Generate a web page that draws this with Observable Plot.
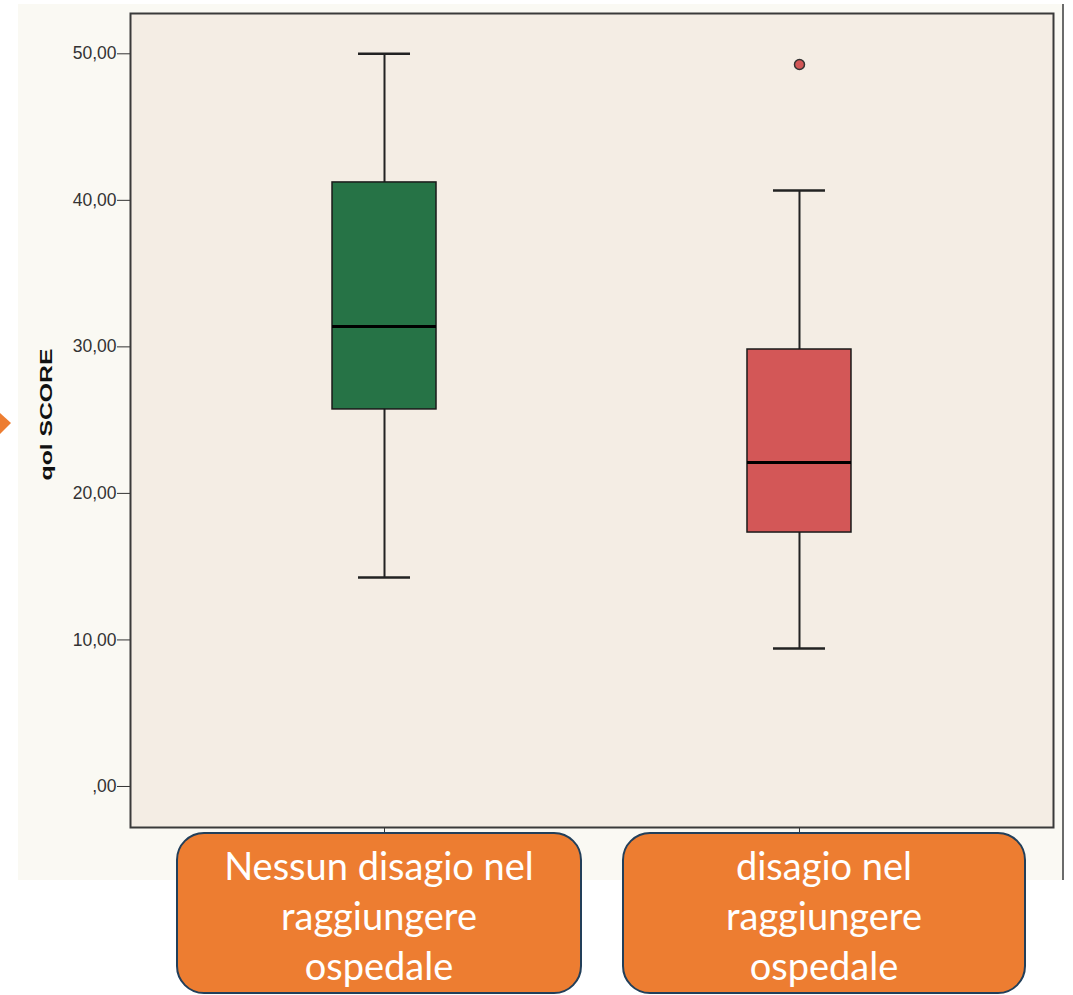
<!DOCTYPE html>
<html><head><meta charset="utf-8">
<script src="https://cdn.jsdelivr.net/npm/d3@7"></script>
<script src="https://cdn.jsdelivr.net/npm/@observablehq/plot@0.6"></script>
<style>
html,body{margin:0;padding:0;background:#fff;}
#page{position:relative;width:1073px;height:995px;overflow:hidden;background:#fff;}
#chart{position:absolute;left:18px;top:4px;}
#vline{position:absolute;left:1062px;top:4px;width:2px;height:876px;background:#6b6b6b;}
#arrow{position:absolute;left:0;top:408px;}
.tag{position:absolute;top:832px;height:162px;box-sizing:border-box;background:#ED7D31;border:2.5px solid #223F5A;border-radius:28px;color:#fff;font-family:Lato,"Open Sans",sans-serif;font-size:38px;line-height:50px;text-align:center;padding-top:6px;}
</style></head>
<body>
<div id="page">
  <div id="chart"></div>
  <div id="vline"></div>
  <svg id="arrow" width="16" height="32"><polygon points="0,5 11,15 0,26" fill="#ED7D31"/></svg>
</div>
<script>
// Categories
const groups = ["Nessun disagio nel raggiungere ospedale", "disagio nel raggiungere ospedale"];
const groupLines = [["Nessun disagio nel", "raggiungere", "ospedale"], ["disagio nel", "raggiungere", "ospedale"]];
// Box-plot statistics (qol SCORE)
const whiskerLow = [14.26, 9.42];
const q1 = [25.73, 17.33];
const median = [31.39, 22.11];
const q3 = [41.22, 29.82];
const whiskerHigh = [50.0, 40.67];
// Outliers
const outlierGroup = [groups[1]];
const outlierValue = [49.27];
// Y ticks
const yTicks = [0, 10, 20, 30, 40, 50];

const stats = groups.map((g, i) => ({group: g, lo: whiskerLow[i], q1: q1[i], med: median[i], q3: q3[i], hi: whiskerHigh[i]}));
const outliers = outlierGroup.map((g, i) => ({group: g, value: outlierValue[i]}));
const fmt = d => d === 0 ? ",00" : d.toFixed(2).replace(".", ",");

const plot = Plot.plot({
  width: 1044,
  height: 876,
  marginLeft: 112,
  marginRight: 9,
  marginTop: 9,
  marginBottom: 53,
  style: {fontFamily: "'Liberation Sans', Arial, sans-serif", fontSize: "17px", background: "#FAF9F3", color: "#333"},
  x: {type: "band", domain: groups, paddingInner: 0.7494, paddingOuter: 0.4868, round: false},
  y: {domain: [-2.80, 52.75]},
  color: {domain: groups, range: ["#267346", "#D35757"]},
  marks: [
    Plot.frame({fill: "#F4EDE4"}),
    Plot.ruleX(stats, {x: "group", y1: "lo", y2: "hi", stroke: "#222", strokeWidth: 2}),
    Plot.tickY(stats, {x: "group", y: "hi", insetLeft: 26, insetRight: 26, stroke: "#222", strokeWidth: 2.5}),
    Plot.tickY(stats, {x: "group", y: "lo", insetLeft: 26, insetRight: 26, stroke: "#222", strokeWidth: 2.5}),
    Plot.barY(stats, {x: "group", y1: "q1", y2: "q3", fill: "group", stroke: "#1a1a1a", strokeWidth: 1.5}),
    Plot.tickY(stats, {x: "group", y: "med", stroke: "#000", strokeWidth: 3}),
    Plot.dot(outliers, {x: "group", y: "value", r: 5, fill: "group", stroke: "#333", strokeWidth: 1.5}),
    Plot.axisY({ticks: yTicks, tickFormat: fmt, tickSize: 13, tickPadding: 1, fontSize: 17.5, label: null, color: "#333"}),
    Plot.axisX({tickSize: 6, tickFormat: () => "", label: null, color: "#333"}),
    Plot.text(["qol SCORE"], {frameAnchor: "left", dx: -84, dy: -6, rotate: -90, textAnchor: "middle", fontSize: 16.5, fontWeight: "bold", fill: "#111"}),
    Plot.frame({stroke: "#3a3a3a", strokeWidth: 2})
  ]
});
document.getElementById("chart").appendChild(plot);
// stretch the rotated axis title along its reading direction as in the reference
d3.select(plot).selectAll("text").filter(function() { return this.textContent === "qol SCORE"; })
  .attr("transform", function() { return (this.getAttribute("transform") || "") + " scale(1.5,1)"; });

// Orange annotation boxes under the categories
const tagBoxes = [{left: 176, width: 406}, {left: 622, width: 404}];
const page = document.getElementById("page");
groupLines.forEach((lines, i) => {
  const d = document.createElement("div");
  d.className = "tag";
  d.style.left = tagBoxes[i].left + "px";
  d.style.width = tagBoxes[i].width + "px";
  d.innerHTML = lines.map(l => `<div>${l}</div>`).join("");
  page.appendChild(d);
});
</script>
</body></html>
